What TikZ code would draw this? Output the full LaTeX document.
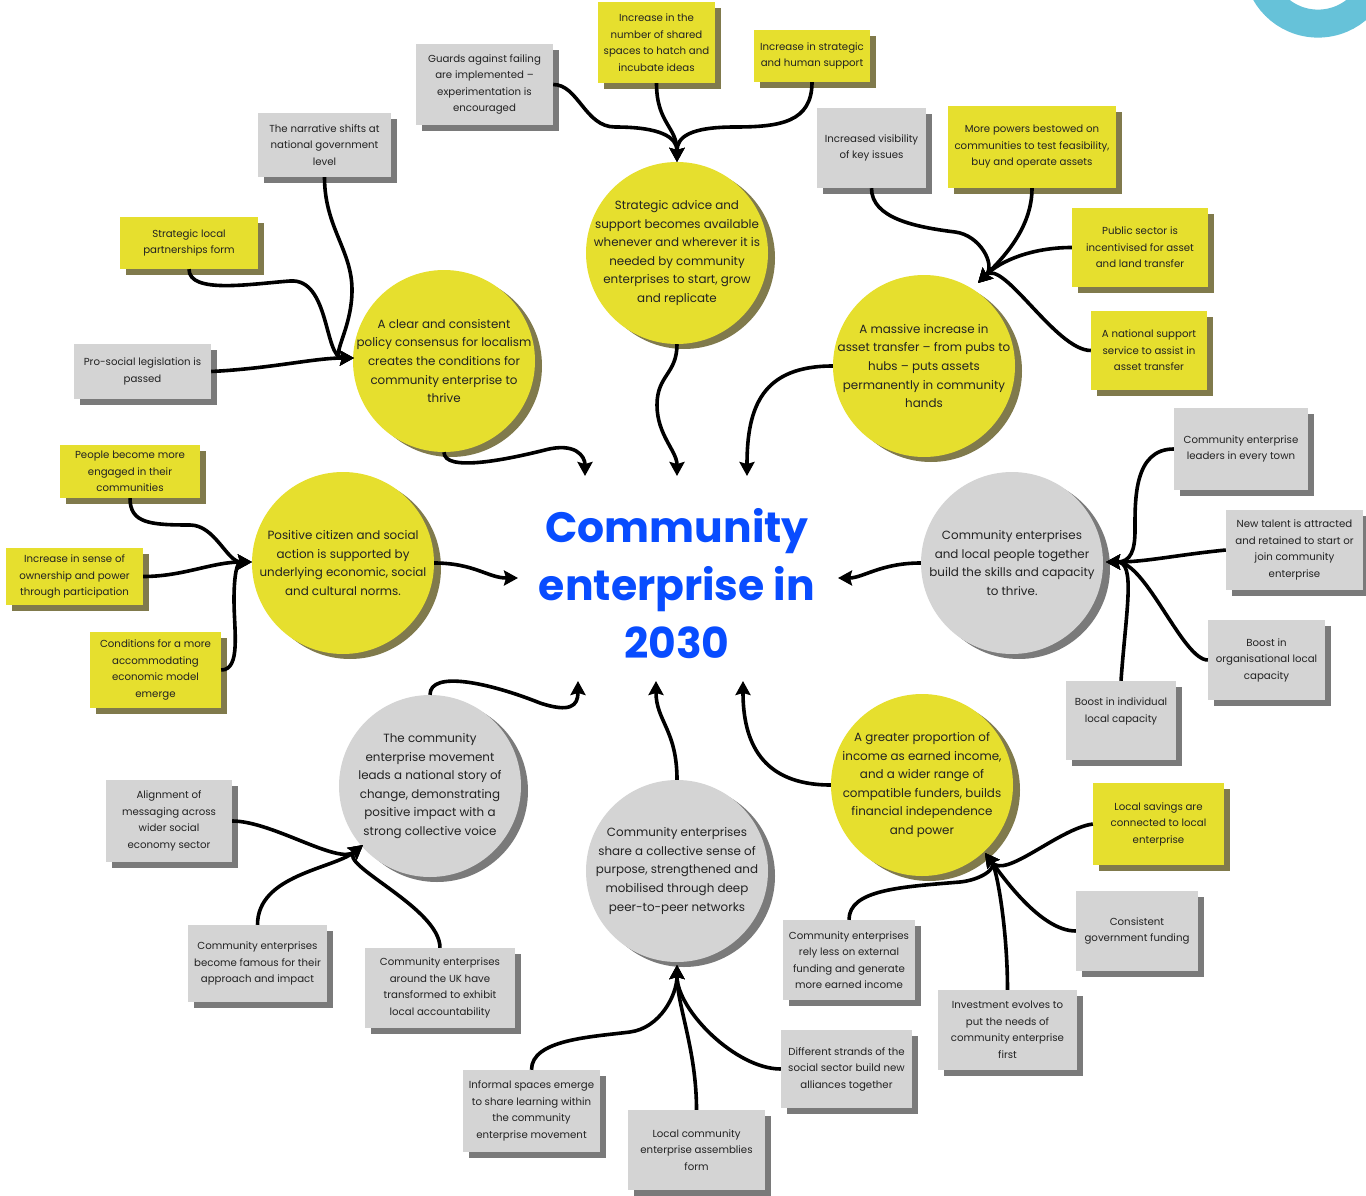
\documentclass[tikz,border=0pt]{standalone}
\usepackage{fontspec}
\setmainfont{Poppins}
\usetikzlibrary{shadows,arrows.meta}
\definecolor{noteyellow}{RGB}{230,223,46}
\definecolor{yellowshade}{RGB}{128,122,76}
\definecolor{notegrey}{RGB}{212,212,212}
\definecolor{greyshade}{RGB}{122,122,122}
\definecolor{titleblue}{RGB}{8,76,255}
\definecolor{ringcyan}{RGB}{102,194,217}
\definecolor{inkgrey}{RGB}{34,34,34}
\newcommand\boxfont{\fontsize{10.2}{16.5}\selectfont}
\newcommand\circfont{\fontsize{11.9}{18.6}\selectfont}
\newcommand\bigtitlefont{\fontsize{42.5}{58}\selectfont\bfseries}

\begin{document}
\begin{tikzpicture}[x=1pt,y=-1pt,
		ynote/.style={rectangle,fill=noteyellow,text=inkgrey,align=center,inner sep=2pt,font=\boxfont,
			drop shadow={shadow xshift=6pt,shadow yshift=-6pt,fill=yellowshade,opacity=1}},
		gnote/.style={rectangle,fill=notegrey,text=inkgrey,align=center,inner sep=2pt,font=\boxfont,
			drop shadow={shadow xshift=6pt,shadow yshift=-6pt,fill=greyshade,opacity=1}},
		ybubble/.style={circle,fill=noteyellow,text=inkgrey,align=center,inner sep=-20pt,minimum size=182pt,font=\circfont,
			drop shadow={shadow xshift=7pt,shadow yshift=-5pt,fill=yellowshade,opacity=1}},
		gbubble/.style={circle,fill=notegrey,text=inkgrey,align=center,inner sep=-20pt,minimum size=182pt,font=\circfont,
			drop shadow={shadow xshift=7pt,shadow yshift=-5pt,fill=greyshade,opacity=1}},
		link/.style={line width=3.6pt,-{Stealth[length=14pt,width=15pt,inset=2pt]}}]
	\useasboundingbox (0,0) rectangle (1366,1196);
	\begin{scope}
		\clip (0,0) rectangle (1366,1196);
		\draw[ringcyan,line width=28pt] (1318,-37) circle[radius=60.6];
	\end{scope}

	\node[ybubble]	(advice)	at (677,253)	{Strategic advice and\\support becomes available\\whenever and wherever it is\\needed by community\\enterprises to start, grow\\and replicate};
	\node[ybubble]	(assets)	at (924,366)	{A massive increase in\\asset transfer – from pubs to\\hubs – puts assets\\permanently in community\\hands};
	\node[gbubble]	(skills)	at (1012,563)	{Community enterprises\\and local people together\\build the skills and capacity\\to thrive.};
	\node[ybubble]	(income)	at (922,785)	{A greater proportion of\\income as earned income,\\and a wider range of\\compatible funders, builds\\financial independence\\and power};
	\node[gbubble]	(network)	at (677,871)	{Community enterprises\\share a collective sense of\\purpose, strengthened and\\mobilised through deep\\peer-to-peer networks};
	\node[gbubble]	(story)		at (430,786)	{The community\\enterprise movement\\leads a national story of\\change, demonstrating\\positive impact with a\\strong collective voice};
	\node[ybubble]	(citizen)	at (343,563)	{Positive citizen and social\\action is supported by\\underlying economic, social\\and cultural norms.};
	\node[ybubble]	(policy)	at (444,361)	{A clear and consistent\\policy consensus for localism\\creates the conditions for\\community enterprise to\\thrive};

	\node[text=titleblue,font=\bigtitlefont,align=center]	(goal)	at (677,584)	{Community\\enterprise in\\2030};

	\node[gnote,minimum width=137pt,minimum height=81pt]	(guards)	at (484.5,84.5)	{Guards against failing\\are implemented –\\experimentation is\\encouraged};
	\node[ynote,minimum width=117pt,minimum height=81pt]	(hatch)		at (656.5,42.5)	{Increase in the\\number of shared\\spaces to hatch and\\incubate ideas};
	\node[ynote,minimum width=116pt,minimum height=52pt]	(human)		at (812,56)		{Increase in strategic\\and human support};

	\node[gnote,minimum width=109pt,minimum height=80pt]	(visible)	at (871.5,148)	{Increased visibility\\of key issues};
	\node[ynote,minimum width=168pt,minimum height=82pt]	(powers)	at (1032,147)	{More powers bestowed on\\communities to test feasibility,\\buy and operate assets};
	\node[ynote,minimum width=136pt,minimum height=79pt]	(public)	at (1140,247.5)	{Public sector is\\incentivised for asset\\and land transfer};
	\node[ynote,minimum width=116pt,minimum height=79pt]	(service)	at (1149,350.5)	{A national support\\service to assist in\\asset transfer};

	\node[gnote,minimum width=134pt,minimum height=82pt]	(leaders)	at (1241,449)	{Community enterprise\\leaders in every town};
	\node[gnote,minimum width=137pt,minimum height=80pt]	(talent)	at (1294.5,550)	{New talent is attracted\\and retained to start or\\join community\\enterprise};
	\node[gnote,minimum width=117pt,minimum height=80pt]	(orgcap)	at (1266.5,660)	{Boost in\\organisational local\\capacity};
	\node[gnote,minimum width=110pt,minimum height=79pt]	(indcap)	at (1121,720.5)	{Boost in individual\\local capacity\\[4pt]};

	\node[ynote,minimum width=131pt,minimum height=82pt]	(savings)	at (1158.5,824)	{Local savings are\\connected to local\\enterprise};
	\node[gnote,minimum width=122pt,minimum height=80pt]	(funding)	at (1137,931)	{Consistent\\government funding};
	\node[gnote,minimum width=139pt,minimum height=80pt]	(invest)	at (1007.5,1030)	{Investment evolves to\\put the needs of\\community enterprise\\first};
	\node[gnote,minimum width=132pt,minimum height=80pt]	(earned)	at (849,960)	{Community enterprises\\rely less on external\\funding and generate\\more earned income};

	\node[gnote,minimum width=137pt,minimum height=82pt]	(informal)	at (531.5,1111)	{Informal spaces emerge\\to share learning within\\the community\\enterprise movement};
	\node[gnote,minimum width=137pt,minimum height=80pt]	(assembly)	at (696.5,1150)	{Local community\\enterprise assemblies\\form};
	\node[gnote,minimum width=131pt,minimum height=78pt]	(strands)	at (846.5,1069)	{Different strands of the\\social sector build new\\alliances together};

	\node[gnote,minimum width=126pt,minimum height=82pt]	(messaging)	at (169,821)	{Alignment of\\messaging across\\wider social\\economy sector};
	\node[gnote,minimum width=139pt,minimum height=77pt]	(famous)	at (257.5,963.5)	{Community enterprises\\become famous for their\\approach and impact};
	\node[gnote,minimum width=150pt,minimum height=80pt]	(account)	at (440,988)	{Community enterprises\\around the UK have\\transformed to exhibit\\local accountability};

	\node[ynote,minimum width=140pt,minimum height=53pt]	(engaged)	at (130,471.5)	{People become more\\engaged in their\\communities};
	\node[ynote,minimum width=137pt,minimum height=57pt]	(ownership)	at (74.5,576.5)	{Increase in sense of\\ownership and power\\through participation};
	\node[ynote,minimum width=131pt,minimum height=76pt]	(economy)	at (155.5,670)	{Conditions for a more\\accommodating\\economic model\\emerge};

	\node[gnote,minimum width=133pt,minimum height=64pt]	(narrative)	at (324.5,145)	{The narrative shifts at\\national government\\level};
	\node[ynote,minimum width=138pt,minimum height=52pt]	(partners)	at (189,243)	{Strategic local\\partnerships form};
	\node[gnote,minimum width=137pt,minimum height=55pt]	(law)		at (142.5,371.5)	{Pro-social legislation is\\passed};

	\coordinate (intoadvice)	at (677,162);
	\coordinate (intoassets)	at (978,283);
	\coordinate (intoskills)	at (1106,562);
	\coordinate (intoincome)	at (985,853);
	\coordinate (intonetwork)	at (677,965);
	\coordinate (intostory)		at (363,845);
	\coordinate (intocitizen)	at (252,562);
	\coordinate (intopolicy)	at (354,358);

	\coordinate (goalnw)	at (585,476);
	\coordinate (goaln)		at (677,476);
	\coordinate (goalne)	at (747,476);
	\coordinate (goalw)		at (518,578);
	\coordinate (goale)		at (838,578);
	\coordinate (goalsw)	at (578,681);
	\coordinate (goals)		at (656,681);
	\coordinate (goalse)	at (743,681);

	\draw[link] (guards.east) .. controls +(25,0) and +(-30,0) .. (615,127) .. controls +(45,0) and +(0,-25) .. (intoadvice);
	\draw[link] (hatch.south) .. controls +(0,40) and +(0,-35) .. (intoadvice);
	\draw[link] (human.south) .. controls +(0,40) and +(45,0) .. (735,127) .. controls +(-45,0) and +(0,-25) .. (intoadvice);

	\draw[link] (visible.south) .. controls +(0,30) and +(-40,-5) .. (955,232) .. controls +(25,3) and +(18,-18) .. (intoassets);
	\draw[link] (powers.south) .. controls +(0,40) and +(25,-25) .. (intoassets);
	\draw[link] (public.west) .. controls +(-40,0) and +(22,-22) .. (intoassets);
	\draw[link] (service.west) .. controls +(-35,0) and +(25,-25) .. (intoassets);

	\draw[link] (leaders.west) .. controls +(-40,0) and +(0,-30) .. (1135,530) .. controls +(0,20) and +(25,0) .. (intoskills);
	\draw[link] (talent.west) .. controls +(-50,5) and +(40,0) .. (intoskills);
	\draw[link] (orgcap.west) .. controls +(-25,0) and +(40,0) .. (intoskills);
	\draw[link] (indcap.north) .. controls +(5,-70) and +(30,0) .. (intoskills);

	\draw[link] (savings.west) .. controls +(-35,5) and +(20,27) .. (intoincome);
	\draw[link] (funding.west) .. controls +(-35,0) and +(18,24) .. (intoincome);
	\draw[link] (invest.north) .. controls +(0,-60) and +(12,16) .. (intoincome);
	\draw[link] (earned.north) .. controls +(0,-30) and +(-60,5) .. (960,882) .. controls +(20,-2) and +(12,16) .. (intoincome);

	\draw[link] (informal.north) .. controls +(0,-30) and +(-40,5) .. (630,1032) .. controls +(30,-4) and +(0,30) .. (intonetwork);
	\draw[link] (assembly.north) .. controls +(0,-60) and +(0,40) .. (intonetwork);
	\draw[link] (strands.west) .. controls +(-45,0) and +(0,45) .. (intonetwork);

	\draw[link] (messaging.east) .. controls +(40,0) and +(-25,20) .. (intostory);
	\draw[link] (famous.north) .. controls +(0,-50) and +(-30,24) .. (intostory);
	\draw[link] (account.north) .. controls +(0,-40) and +(-25,20) .. (intostory);

	\draw[link] (engaged.south) .. controls +(0,25) and +(-40,0) .. (190,525) .. controls +(25,0) and +(-25,0) .. (intocitizen);
	\draw[link] (ownership.east) .. controls +(40,0) and +(-40,0) .. (intocitizen);
	\draw[link] (economy.east) .. controls +(20,0) and +(0,30) .. (234,600) .. controls +(0,-25) and +(-15,0) .. (intocitizen);

	\draw[link] (narrative.south) .. controls +(0,50) and +(0,-40) .. (352,290) .. controls +(0,40) and +(-25,0) .. (intopolicy);
	\draw[link] (partners.south) .. controls +(0,25) and +(-40,3) .. (290,281) .. controls +(40,-3) and +(-30,0) .. (intopolicy);
	\draw[link] (law.east) .. controls +(60,-3) and +(-40,0) .. (intopolicy);

	\draw[link] (policy.south) .. controls +(0,20) and +(-40,10) .. (545,450) .. controls +(30,-8) and +(0,-20) .. (goalnw);
	\draw[link] (advice.south) .. controls +(0,30) and +(0,-30) .. (657,405) .. controls +(0,30) and +(0,-25) .. (goaln);
	\draw[link] (assets.west) .. controls +(-70,0) and +(0,-70) .. (goalne);
	\draw[link] (citizen.east) .. controls +(40,0) and +(-30,0) .. (goalw);
	\draw[link] (skills.west) .. controls +(-40,0) and +(25,0) .. (goale);
	\draw[link] (story.north) .. controls +(0,-25) and +(-50,-20) .. (540,703) .. controls +(30,10) and +(0,25) .. (goalsw);
	\draw[link] (network.north) .. controls +(0,-50) and +(0,40) .. (goals);
	\draw[link] (income.west) .. controls +(-70,0) and +(0,60) .. (goalse);
\end{tikzpicture}
\end{document}
